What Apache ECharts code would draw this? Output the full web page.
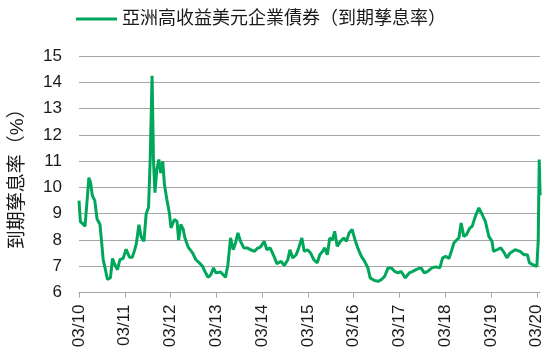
<!DOCTYPE html>
<html><head><meta charset="utf-8">
<script src="https://cdn.jsdelivr.net/npm/echarts@6/dist/echarts.min.js"></script>
<style>html,body{margin:0;padding:0;background:#fff}#c{width:550px;height:359px}</style>
</head><body><div id="c"></div>
<script>
const seriesName = '亞洲高收益美元企業債券（到期孳息率）';
const yAxisTitle = '到期孳息率（%）';
const xTickLabels = ['03/10','03/11','03/12','03/13','03/14','03/15','03/16','03/17','03/18','03/19','03/20'];
const dates = [
'2010-03-01','2010-03-12','2010-04-05','2010-04-18','2010-05-01','2010-05-19','2010-06-01','2010-06-15','2010-07-05','2010-07-23',
'2010-08-15','2010-08-27','2010-09-10','2010-09-28','2010-10-14','2010-11-07','2010-11-23','2010-12-12','2011-01-02','2011-01-21',
'2011-02-16','2011-03-12','2011-04-08','2011-04-29','2011-05-18','2011-06-01','2011-06-22','2011-07-10','2011-08-01','2011-08-19',
'2011-09-07','2011-09-20','2011-10-05','2011-10-16','2011-10-28','2011-11-12','2011-11-28','2011-12-13','2011-12-29','2012-01-12',
'2012-01-31','2012-02-20','2012-03-04','2012-03-31','2012-04-21','2012-05-04','2012-05-21','2012-06-10','2012-06-23','2012-07-19',
'2012-08-23','2012-09-19','2012-10-16','2012-11-11','2012-11-29','2012-12-25','2013-01-16','2013-02-06','2013-02-25','2013-04-04',
'2013-05-13','2013-06-01','2013-06-22','2013-07-13','2013-08-01','2013-08-20','2013-09-10','2013-10-06','2013-11-02','2013-11-28',
'2013-12-30','2014-01-21','2014-02-15','2014-03-18','2014-04-08','2014-05-04','2014-05-31','2014-06-27','2014-07-31','2014-08-25',
'2014-09-22','2014-10-09','2014-10-31','2014-11-28','2014-12-18','2015-01-12','2015-01-31','2015-02-27','2015-03-22','2015-04-18',
'2015-05-15','2015-06-04','2015-06-26','2015-07-14','2015-08-03','2015-08-23','2015-09-13','2015-10-01','2015-10-21','2015-11-16',
'2015-12-12','2016-01-03','2016-01-24','2016-02-17','2016-03-09','2016-04-04','2016-05-01','2016-05-27','2016-06-22','2016-07-10',
'2016-08-14','2016-09-11','2016-10-07','2016-11-03','2016-11-30','2016-12-25','2017-01-21','2017-02-17','2017-03-13','2017-04-16',
'2017-05-18','2017-06-14','2017-07-24','2017-08-19','2017-09-15','2017-10-12','2017-11-15','2017-12-15','2018-01-17','2018-02-08',
'2018-03-05','2018-03-31','2018-04-21','2018-05-09','2018-05-31','2018-06-18','2018-07-06','2018-07-27','2018-08-17','2018-09-14',
'2018-10-02','2018-10-27','2018-11-24','2018-12-21','2019-01-15','2019-02-12','2019-03-09','2019-03-21','2019-04-18','2019-05-18',
'2019-06-15','2019-07-06','2019-08-01','2019-09-10','2019-10-19','2019-11-20','2019-12-16','2020-01-02','2020-01-29','2020-03-01',
'2020-03-12','2020-03-20','2020-03-27'
];
const yields = [
9.5,8.7,8.6,8.52,8.47,10.37,10.2,9.7,9.5,8.8,
8.6,8.0,7.25,6.87,6.5,6.57,7.3,7.06,6.87,7.25,
7.3,7.65,7.35,7.33,7.6,7.85,8.58,8.12,7.95,9.0,
9.25,11.06,14.25,11.06,9.8,10.68,11.06,10.55,10.99,10.1,
9.54,9.03,8.46,8.78,8.71,8.0,8.59,8.4,8.08,7.73,
7.51,7.25,7.13,7.0,6.81,6.58,6.68,6.94,6.75,6.78,
6.58,7.06,8.08,7.63,7.89,8.27,7.95,7.7,7.7,7.63,
7.57,7.68,7.73,7.95,7.63,7.7,7.42,7.1,7.19,7.03,
7.25,7.63,7.32,7.44,7.7,8.08,7.57,7.63,7.51,7.25,
7.13,7.44,7.57,7.7,7.44,8.08,8.0,8.33,7.76,7.95,
8.08,7.95,8.27,8.4,8.04,7.67,7.38,7.19,6.94,6.56,
6.46,6.43,6.49,6.62,6.94,6.94,6.81,6.75,6.81,6.56,
6.75,6.81,6.9,6.94,6.75,6.81,6.94,6.98,6.94,7.32,
7.38,7.3,7.6,7.89,8.0,8.08,8.65,8.14,8.2,8.46,
8.52,8.9,9.22,8.97,8.71,8.14,7.95,7.57,7.63,7.7,
7.51,7.32,7.51,7.63,7.57,7.44,7.44,7.13,7.06,7.0,
8.0,11.06,9.7
];
const origin = Date.UTC(2010, 2, 1);
const yearMs = 365.25 * 86400000;
const points = dates.map((d, i) => [(Date.parse(d + 'T00:00:00Z') - origin) / yearMs, yields[i]]);
const textColor = '#1a1a1a';
const gridColor = '#a6a6a6';
const chart = echarts.init(document.getElementById('c'), null, {renderer: 'canvas'});
chart.setOption({
  animation: false,
  legend: {
    data: [seriesName], left: 71, top: 5, icon: 'rect', itemWidth: 41, itemHeight: 3, itemGap: 2,
    textStyle: {fontSize: 18, color: textColor, fontFamily: 'Liberation Sans, Noto Sans CJK TC'}
  },
  grid: {left: 75.7, right: 10, top: 56, bottom: 66.4, containLabel: false},
  xAxis: {
    type: 'value', min: 0, max: 10.07, interval: 1,
    axisLine: {show: true, lineStyle: {color: gridColor, width: 1}},
    axisTick: {show: true, length: 5, lineStyle: {color: gridColor}},
    splitLine: {show: false},
    axisLabel: {
      rotate: 90, margin: 12, fontSize: 17, color: textColor, fontFamily: 'Liberation Sans',
      showMaxLabel: false,
      formatter: v => xTickLabels[Math.round(v)] || ''
    }
  },
  yAxis: {
    type: 'value', min: 6, max: 15, interval: 1,
    name: yAxisTitle, nameLocation: 'middle', nameGap: 52, nameRotate: 90,
    nameTextStyle: {fontSize: 19, color: textColor, fontFamily: 'Liberation Sans, Noto Sans CJK TC'},
    axisLine: {show: false}, axisTick: {show: false},
    splitLine: {show: true, lineStyle: {color: gridColor, width: 1}},
    axisLabel: {margin: 17, fontSize: 17, color: textColor, fontFamily: 'Liberation Sans'}
  },
  series: [{
    name: seriesName, type: 'line', data: points, showSymbol: false, symbol: 'none',
    lineStyle: {color: '#00a65a', width: 3}, itemStyle: {color: '#00a65a'}
  }]
});
</script></body></html>
